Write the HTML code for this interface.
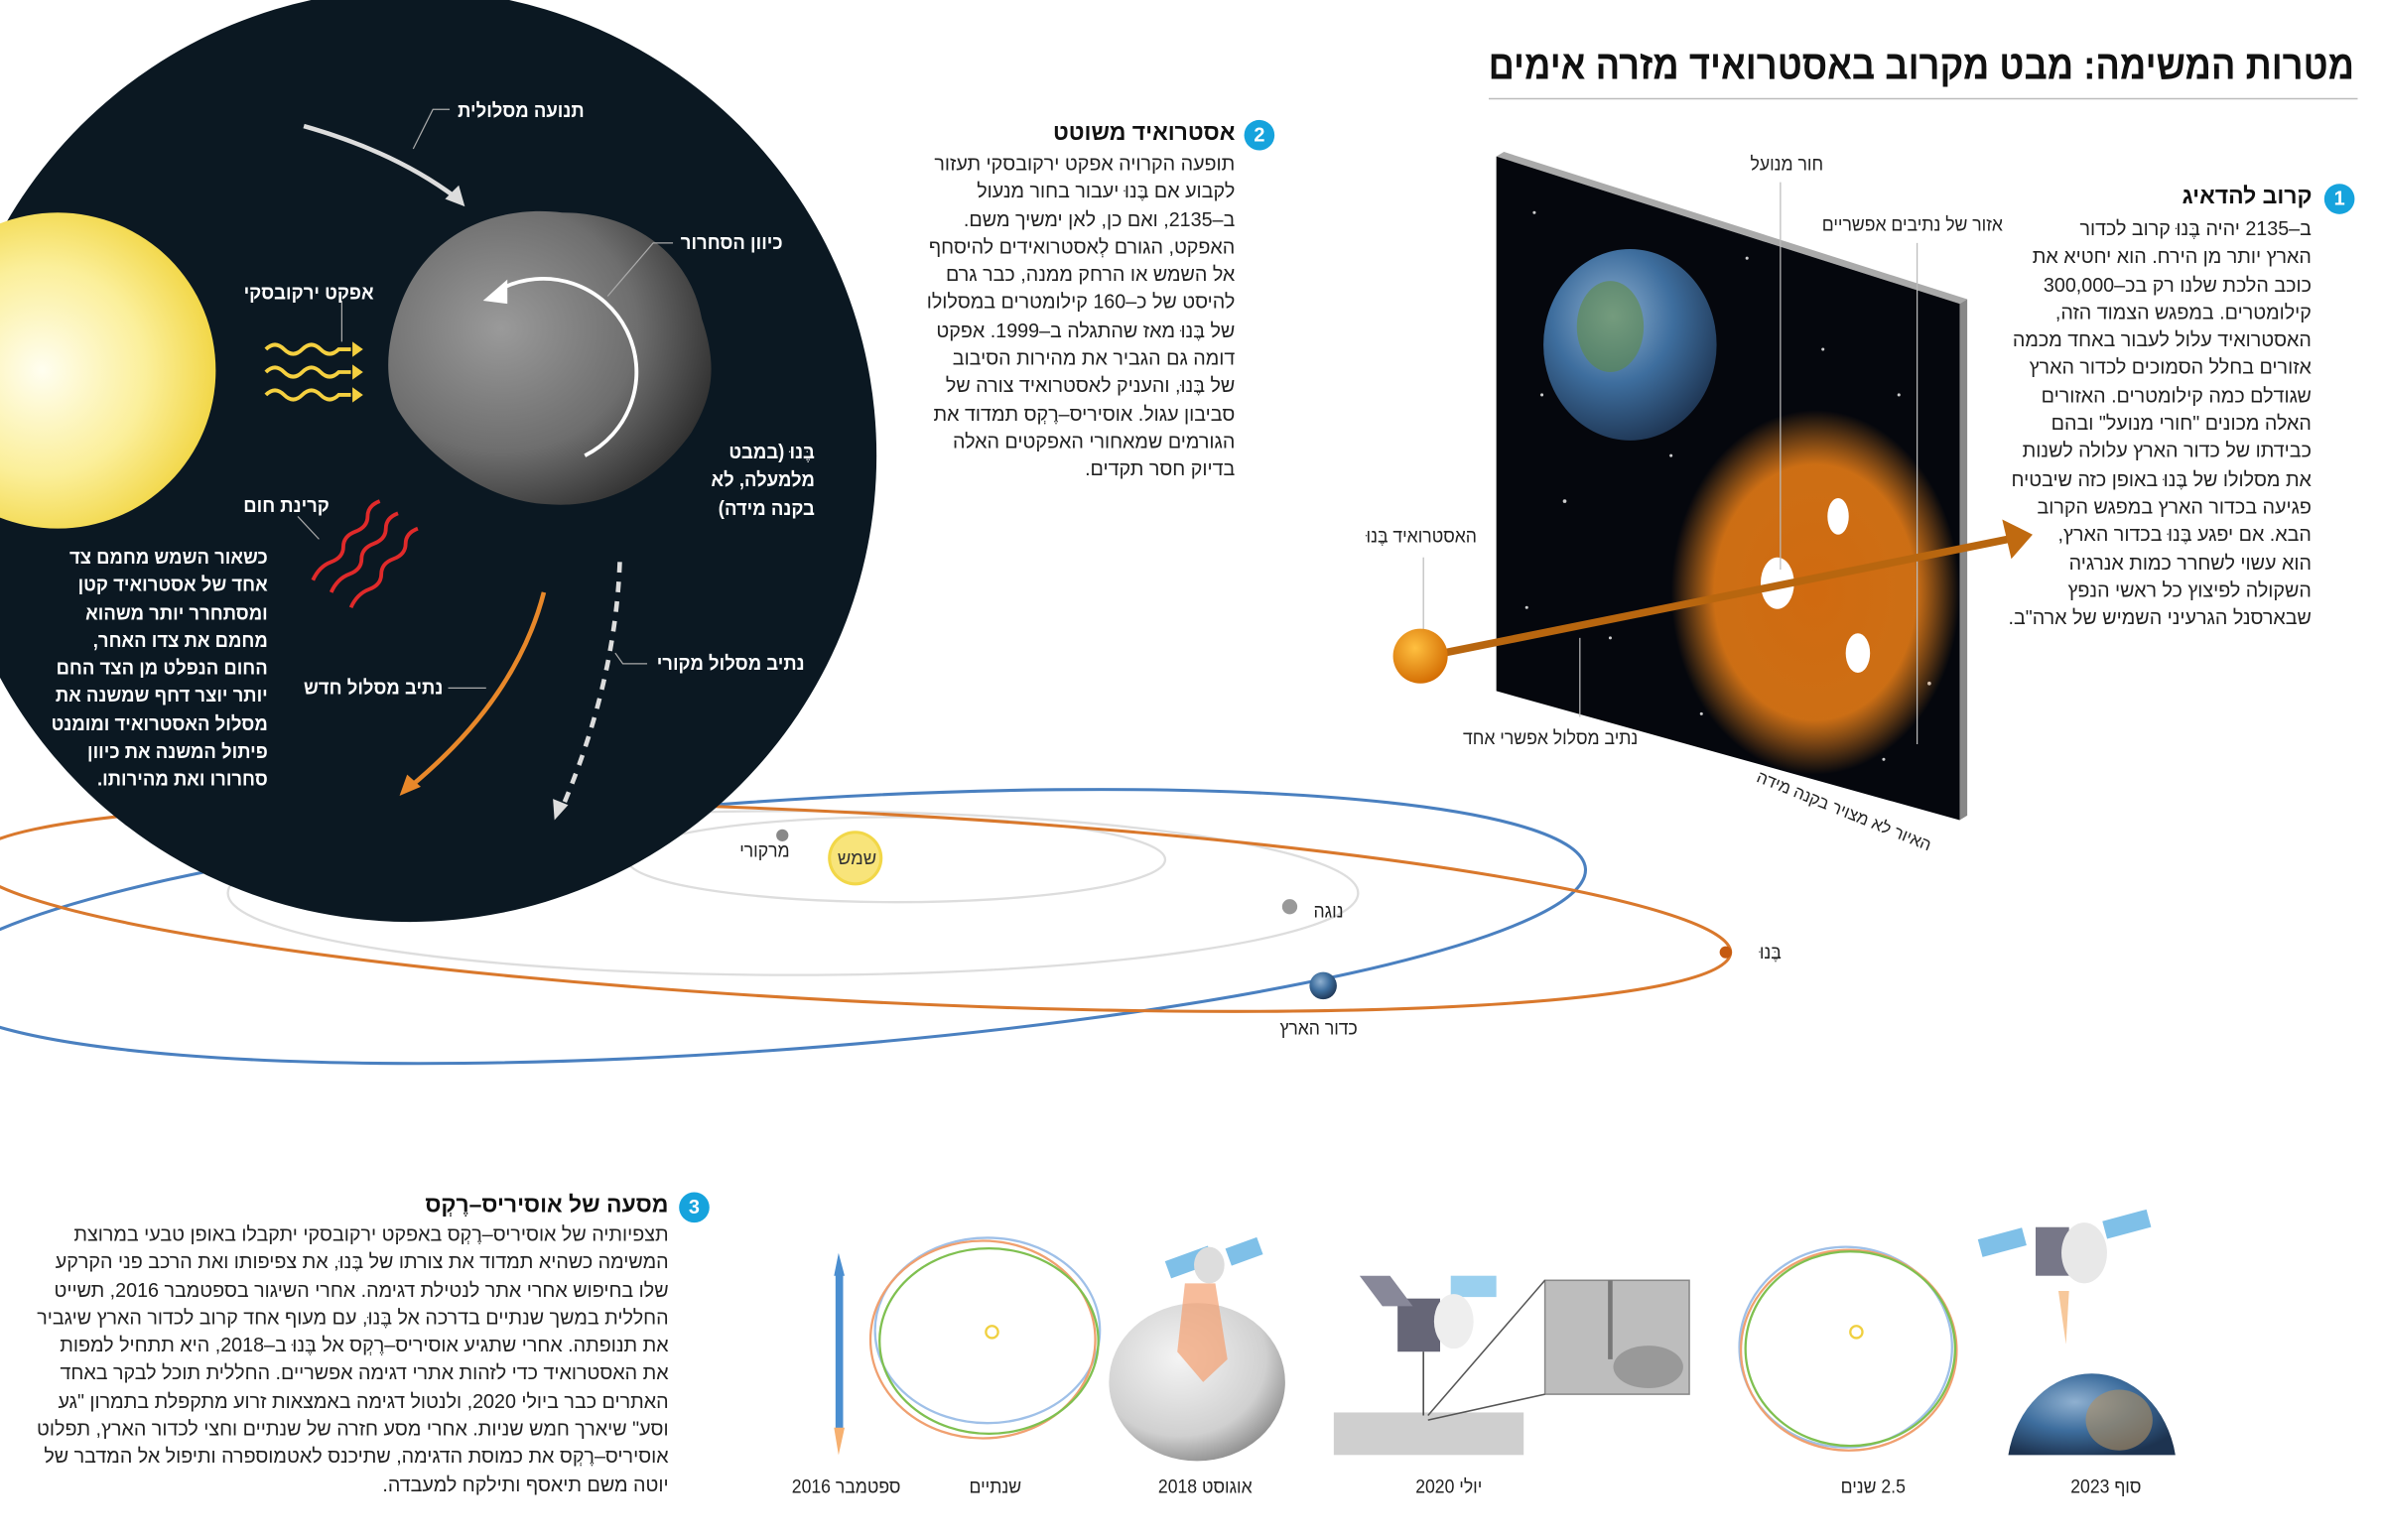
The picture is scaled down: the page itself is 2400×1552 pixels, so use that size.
<!DOCTYPE html>
<html><head><meta charset="utf-8">
<style>
html,body{margin:0;padding:0;background:#fff;}
body{width:2400px;height:1552px;overflow:hidden;position:relative;}
#w{position:absolute;left:0;top:0;width:1568px;height:1014px;transform:scale(1.5306);transform-origin:0 0;font-family:"Liberation Sans","DejaVu Sans",sans-serif;}
.t{position:absolute;direction:rtl;text-align:right;white-space:nowrap;}
.b{font-size:13px;line-height:18.3px;color:#222;transform:scaleX(0.99);transform-origin:right top;}
.w{color:#fff;font-size:13px;line-height:18.3px;font-weight:bold;transform:scaleX(0.93);transform-origin:right top;}
.h{font-size:15px;font-weight:bold;color:#111;}
.l{font-size:12.5px;color:#222;transform:scaleX(0.92);transform-origin:right top;}
.num{position:absolute;width:20px;height:20px;border-radius:50%;background:#16a3dd;color:#fff;font-size:13px;font-weight:bold;text-align:center;line-height:20px;}
</style></head><body><div id="w">
<svg width="1568" height="1014" style="position:absolute;left:0;top:0">
<defs>
<radialGradient id="sun" cx="0.45" cy="0.5" r="0.55"><stop offset="0" stop-color="#fffef0"/><stop offset="0.6" stop-color="#fbef9a"/><stop offset="1" stop-color="#f2d748"/></radialGradient>
<radialGradient id="ast" cx="0.35" cy="0.4" r="0.7"><stop offset="0" stop-color="#9a9a9a"/><stop offset="0.6" stop-color="#6e6e6e"/><stop offset="1" stop-color="#2e2e2e"/></radialGradient>
<radialGradient id="glow" cx="0.5" cy="0.5" r="0.5"><stop offset="0" stop-color="#d06a10"/><stop offset="0.7" stop-color="#d77415" stop-opacity="0.95"/><stop offset="1" stop-color="#e08020" stop-opacity="0"/></radialGradient>
<radialGradient id="earth" cx="0.4" cy="0.35" r="0.7"><stop offset="0" stop-color="#8fb0d0"/><stop offset="0.5" stop-color="#3e6e9e"/><stop offset="1" stop-color="#1d3350"/></radialGradient>
<radialGradient id="ball" cx="0.4" cy="0.35" r="0.7"><stop offset="0" stop-color="#ffc040"/><stop offset="1" stop-color="#d26a00"/></radialGradient>
<radialGradient id="gast" cx="0.4" cy="0.35" r="0.7"><stop offset="0" stop-color="#f4f4f4"/><stop offset="0.7" stop-color="#d0d0d0"/><stop offset="1" stop-color="#8a8a8a"/></radialGradient>
</defs>
<line x1="980" y1="65" x2="1552" y2="65" stroke="#bbb" stroke-width="1"/>
<ellipse cx="590" cy="566" rx="177" ry="28" fill="none" stroke="#ddd" stroke-width="1.5"/>
<ellipse cx="522" cy="588" rx="372" ry="54" fill="none" stroke="#ddd" stroke-width="1.5"/>
<ellipse cx="500" cy="610" rx="545" ry="82" transform="rotate(-4 500 610)" fill="none" stroke="#4a80c0" stroke-width="2"/>
<ellipse cx="560" cy="597" rx="580" ry="62" transform="rotate(3 560 597)" fill="none" stroke="#d9782c" stroke-width="2"/>
<circle cx="270" cy="300" r="307" fill="#0b1822"/>
<circle cx="38" cy="244" r="104" fill="url(#sun)"/>
<path d="M262,205 C280,150 330,135 370,140 C420,140 455,170 462,210 C472,240 470,260 455,285 C430,320 395,335 360,332 C320,330 280,300 262,270 C252,250 255,225 262,205Z" fill="url(#ast)"/>
<path d="M385,300 A58,58 0 1 0 330,190" fill="none" stroke="#fff" stroke-width="2.5"/>
<polygon points="318,198 334,184 334,200" fill="#fff"/>
<path d="M200,83 Q260,100 300,130" fill="none" stroke="#ddd" stroke-width="3"/>
<polygon points="306,136 293,131 302,122" fill="#ddd"/>
<g fill="none" stroke="#f5d040" stroke-width="2.5">
<path d="M175,230 q6,-6 12,0 t12,0 t12,0 t12,0 h8"/><path d="M175,245 q6,-6 12,0 t12,0 t12,0 t12,0 h8"/><path d="M175,260 q6,-6 12,0 t12,0 t12,0 t12,0 h8"/></g>
<g fill="#f5d040"><polygon points="232,225 232,235 239,230"/><polygon points="232,240 232,250 239,245"/><polygon points="232,255 232,265 239,260"/></g>
<g fill="none" stroke="#e02a2a" stroke-width="2.5">
<path d="M250,330 q-8,3 -8,10 t-8,10 t-8,10 t-8,10 t-12,12"/><path d="M262,338 q-8,3 -8,10 t-8,10 t-8,10 t-8,10 t-12,12"/><path d="M275,348 q-8,3 -8,10 t-8,10 t-8,10 t-8,10 t-12,12"/></g>
<path d="M358,390 Q340,460 270,518" fill="none" stroke="#e8882a" stroke-width="3"/>
<polygon points="263,524 268,510 277,518" fill="#e8882a"/>
<path d="M408,370 Q405,450 370,532" fill="none" stroke="#ddd" stroke-width="3" stroke-dasharray="7,6"/>
<polygon points="365,540 364,526 374,530" fill="#ddd"/>
<g stroke="#aaa" stroke-width="0.8" fill="none">
<polyline points="296,72 285,72 272,98"/><polyline points="443,160 430,160 400,195"/><line x1="225" y1="198" x2="225" y2="225"/><line x1="196" y1="340" x2="210" y2="355"/><line x1="295" y1="453" x2="320" y2="453"/><polyline points="426,437 410,437 405,430"/></g>
<circle cx="515" cy="550" r="4" fill="#888"/>
<circle cx="563" cy="565" r="18" fill="#f2d748"/><circle cx="563" cy="565" r="16" fill="#f8e47a"/>
<circle cx="849" cy="597" r="5" fill="#999"/>
<circle cx="871" cy="649" r="9" fill="url(#earth)"/>
<circle cx="1136" cy="627" r="4" fill="#c55a10"/>
<polygon points="985,103 990,100 1295,197 1290,200" fill="#aaa"/>
<polygon points="1290,200 1295,197 1295,537 1290,540" fill="#888"/>
<polygon points="985,103 1290,200 1290,540 985,455" fill="#05070d"/>
<g fill="#fff" opacity="0.8"><circle cx="1010" cy="140" r="1"/><circle cx="1100" cy="300" r="1"/><circle cx="1030" cy="330" r="1.2"/><circle cx="1250" cy="260" r="1"/><circle cx="1150" cy="170" r="1"/><circle cx="1270" cy="450" r="1.2"/><circle cx="1005" cy="400" r="1"/><circle cx="1060" cy="420" r="1"/><circle cx="1200" cy="230" r="1"/><circle cx="1240" cy="500" r="1"/><circle cx="1120" cy="470" r="1"/><circle cx="1015" cy="260" r="1"/></g>
<ellipse cx="1073" cy="227" rx="57" ry="63" fill="url(#earth)"/>
<ellipse cx="1060" cy="215" rx="22" ry="30" fill="#5f8a3a" opacity="0.55"/>
<ellipse cx="1195" cy="390" rx="95" ry="120" fill="url(#glow)"/>
<ellipse cx="1170" cy="384" rx="11" ry="17" fill="#fff"/>
<ellipse cx="1210" cy="340" rx="7" ry="12" fill="#fff"/>
<ellipse cx="1223" cy="430" rx="8" ry="13" fill="#fff"/>
<g stroke="#bbb" stroke-width="0.8"><line x1="1172" y1="120" x2="1172" y2="375"/><line x1="1262" y1="160" x2="1262" y2="490"/><line x1="937" y1="367" x2="937" y2="415"/><line x1="1040" y1="420" x2="1040" y2="472"/></g>
<line x1="950" y1="430" x2="1322" y2="355" stroke="#b8660f" stroke-width="5"/>
<polygon points="1338,352 1318,342 1324,368" fill="#c06a10"/>
<circle cx="935" cy="432" r="18" fill="url(#ball)"/>
<rect x="550" y="835" width="5" height="110" rx="2" fill="#4a8ed0"/>
<polygon points="552,825 549,840 556,840" fill="#4a8ed0"/>
<polygon points="549,940 556,940 552,958" fill="#f6b070"/>
<g fill="none" stroke-width="1.5"><ellipse cx="650" cy="876" rx="74" ry="61" stroke="#9fc0e8"/><ellipse cx="647" cy="882" rx="74" ry="65" stroke="#f0a070"/><ellipse cx="651" cy="883" rx="72" ry="61" stroke="#7fc050"/></g>
<circle cx="653" cy="877" r="4" fill="none" stroke="#f0d040" stroke-width="1.5"/>
<ellipse cx="788" cy="910" rx="58" ry="52" fill="url(#gast)"/>
<polygon points="780,845 800,845 808,895 792,910 775,890" fill="#f4a070" opacity="0.7"/>
<rect x="768" y="825" width="30" height="12" fill="#7fc0e8" transform="rotate(-20 783 831)"/>
<rect x="808" y="818" width="22" height="12" fill="#7fc0e8" transform="rotate(-20 819 824)"/>
<ellipse cx="796" cy="833" rx="10" ry="12" fill="#ddd"/>
<rect x="878" y="930" width="125" height="28" fill="#cfcfcf"/>
<rect x="1017" y="843" width="95" height="75" fill="#bdbdbd" stroke="#888"/>
<ellipse cx="1085" cy="900" rx="23" ry="14" fill="#999"/>
<line x1="1060" y1="843" x2="1060" y2="895" stroke="#777" stroke-width="3"/>
<line x1="1017" y1="843" x2="940" y2="932" stroke="#555"/><line x1="1017" y1="918" x2="940" y2="935" stroke="#555"/>
<rect x="920" y="855" width="28" height="35" fill="#667"/>
<polygon points="895,840 915,840 930,860 910,860" fill="#889"/>
<rect x="955" y="840" width="30" height="14" fill="#9ad0ef"/>
<ellipse cx="957" cy="870" rx="13" ry="18" fill="#eee"/>
<line x1="937" y1="890" x2="937" y2="932" stroke="#444"/>
<g fill="none" stroke-width="1.5"><ellipse cx="1215" cy="887" rx="70" ry="66" stroke="#9fc0e8"/><ellipse cx="1217" cy="889" rx="71" ry="66" stroke="#f0a070"/><ellipse cx="1218" cy="888" rx="69" ry="64" stroke="#7fc050"/></g>
<circle cx="1222" cy="877" r="4" fill="none" stroke="#f0d040" stroke-width="1.5"/>
<rect x="1303" y="812" width="30" height="12" fill="#7fc0e8" transform="rotate(-15 1318 818)"/>
<rect x="1385" y="800" width="30" height="12" fill="#7fc0e8" transform="rotate(-15 1400 806)"/>
<rect x="1340" y="808" width="22" height="32" fill="#778"/>
<ellipse cx="1372" cy="825" rx="15" ry="20" fill="#e8e8e8"/>
<polygon points="1355,850 1362,850 1360,885" fill="#f4b070" opacity="0.7"/>
<path d="M1322,958 A56,66 0 0 1 1432,958 Z" fill="url(#earth)"/>
<ellipse cx="1395" cy="935" rx="22" ry="20" fill="#b09060" opacity="0.6"/>
</svg>
<div class="t" style="right:18px;top:28px;font-size:27px;font-weight:bold;color:#111;transform:scaleX(0.88);transform-origin:right top;">מטרות המשימה: מבט מקרוב באסטרואיד מזרה אימים</div>
<div class="t w" style="right:1183px;top:64px;">תנועה מסלולית</div>
<div class="t w" style="right:1053px;top:151px;">כיוון הסחרור</div>
<div class="t w" style="right:1322px;top:184px;">אפקט ירקובסקי</div>
<div class="t w" style="right:1032px;top:289px;">בֶּנוּ (במבט<br>מלמעלה, לא<br>בקנה מידה)</div>
<div class="t w" style="right:1351px;top:324px;">קרינת חום</div>
<div class="t w" style="right:1392px;top:358px;">כשאור השמש מחמם צד<br>אחד של אסטרואיד קטן<br>ומסתחרר יותר משהוא<br>מחמם את צדו האחר,<br>החום הנפלט מן הצד החם<br>יותר יוצר דחף שמשנה את<br>מסלול האסטרואיד ומומנט<br>פיתול המשנה את כיוון<br>סחרורו ואת מהירותו.</div>
<div class="t w" style="right:1276px;top:444px;">נתיב מסלול חדש</div>
<div class="t w" style="right:1038px;top:428px;">נתיב מסלול מקורי</div>
<div class="t l" style="right:1048px;top:553px;">מרקורי</div>
<div class="t" style="right:991px;top:558px;font-size:12px;color:#333;">שמש</div>
<div class="t l" style="right:684px;top:593px;">נוגה</div>
<div class="t l" style="right:395px;top:620px;">בֶּנוּ</div>
<div class="t l" style="right:674px;top:670px;">כדור הארץ</div>
<div class="t l" style="right:368px;top:101px;">חור מנועל</div>
<div class="t l" style="right:250px;top:141px;">אזור של נתיבים אפשריים</div>
<div class="t l" style="right:596px;top:346px;">האסטרואיד בֶּנוּ</div>
<div class="t l" style="right:490px;top:479px;">נתיב מסלול אפשרי אחד</div>
<div class="t" style="right:295px;top:552px;font-size:11px;color:#222;transform:rotate(22deg);transform-origin:right top;">האיור לא מצויר בקנה מידה</div>
<div class="num" style="left:1530px;top:121px;">1</div>
<div class="t h" style="right:46px;top:121px;">קרוב להדאיג</div>
<div class="t b" style="right:46px;top:142px;">ב–2135 יהיה בֶּנוּ קרוב לכדור<br>הארץ יותר מן הירח. הוא יחטיא את<br>כוכב הלכת שלנו רק בכ–300,000<br>קילומטרים. במפגש הצמוד הזה,<br>האסטרואיד עלול לעבור באחד מכמה<br>אזורים בחלל הסמוכים לכדור הארץ<br>שגודלם כמה קילומטרים. האזורים<br>האלה מכונים "חורי מנועל" ובהם<br>כבידתו של כדור הארץ עלולה לשנות<br>את מסלולו של בֶּנוּ באופן כזה שיבטיח<br>פגיעה בכדור הארץ במפגש הקרוב<br>הבא. אם יפגע בֶּנוּ בכדור הארץ,<br>הוא עשוי לשחרר כמות אנרגיה<br>השקולה לפיצוץ כל ראשי הנפץ<br>שבארסנל הגרעיני השמיש של ארה"ב.</div>
<div class="num" style="left:819px;top:79px;">2</div>
<div class="t h" style="right:755px;top:79px;">אסטרואיד משוטט</div>
<div class="t b" style="right:755px;top:99px;">תופעה הקרויה אפקט ירקובסקי תעזור<br>לקבוע אם בֶּנוּ יעבור בחור מנעול<br>ב–2135, ואם כן, לאן ימשיך משם.<br>האפקט, הגורם לְאסטרואידים להיסחף<br>אל השמש או הרחק ממנה, כבר גרם<br>להיסט של כ–160 קילומטרים במסלולו<br>של בֶּנוּ מאז שהתגלה ב–1999. אפקט<br>דומה גם הגביר את מהירות הסיבוב<br>של בֶּנוּ, והעניק לאסטרואיד צורה של<br>סביבון עגול. אוסיריס–רֶקְס תמדוד את<br>הגורמים שמאחורי האפקטים האלה<br>בדיוק חסר תקדים.</div>
<div class="num" style="left:447px;top:785px;">3</div>
<div class="t h" style="right:1128px;top:785px;">מסעה של אוסיריס–רֶקְס</div>
<div class="t b" style="right:1128px;top:804px;">תצפיותיה של אוסיריס–רֶקְס באפקט ירקובסקי יתקבלו באופן טבעי במרוצת<br>המשימה כשהיא תמדוד את צורתו של בֶּנוּ, את צפיפותו ואת הרכב פני הקרקע<br>שלו בחיפוש אחרי אתר לנטילת דגימה. אחרי השיגור בספטמבר 2016, תשייט<br>החללית במשך שנתיים בדרכה אל בֶּנוּ, עם מעוף אחד קרוב לכדור הארץ שיגביר<br>את תנופתה. אחרי שתגיע אוסיריס–רֶקְס אל בֶּנוּ ב–2018, היא תתחיל למפות<br>את האסטרואיד כדי לזהות אתרי דגימה אפשריים. החללית תוכל לבקר באחד<br>האתרים כבר ביולי 2020, ולנטול דגימה באמצאות זרוע מתקפלת בתמרון "גע<br>וסע" שיארך חמש שניות. אחרי מסע חזרה של שנתיים וחצי לכדור הארץ, תפלוט<br>אוסיריס–רֶקְס את כמוסת הדגימה, שתיכנס לאטמוספרה ותיפול אל המדבר של<br>יוטה משם תיאסף ותילקח למעבדה.</div>
<div class="t l" style="right:975px;top:972px;">ספטמבר 2016</div>
<div class="t l" style="right:896px;top:972px;">שנתיים</div>
<div class="t l" style="right:744px;top:972px;">אוגוסט 2018</div>
<div class="t l" style="right:592px;top:972px;">יולי 2020</div>
<div class="t l" style="right:314px;top:972px;">2.5 שנים</div>
<div class="t l" style="right:158px;top:972px;">סוף 2023</div>
</div></body></html>
